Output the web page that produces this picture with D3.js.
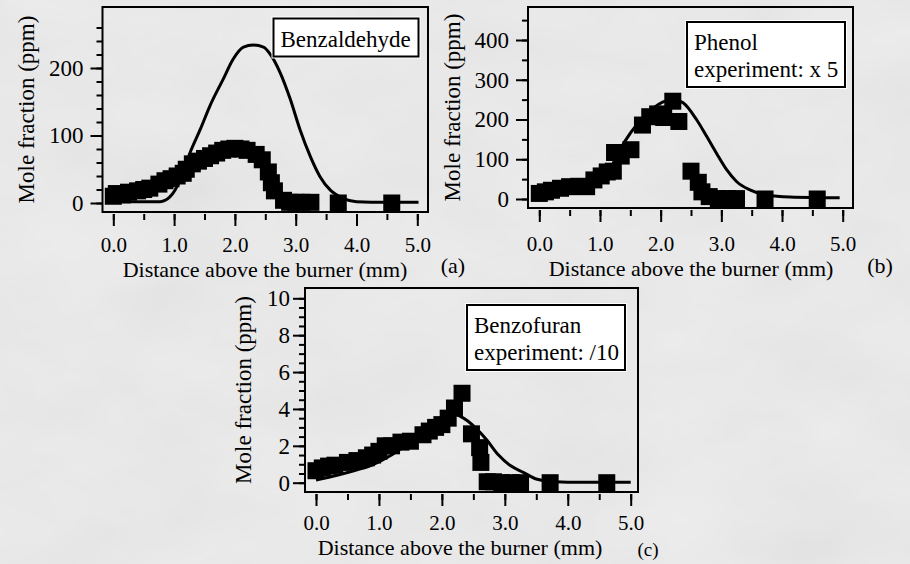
<!DOCTYPE html>
<html>
<head>
<meta charset="utf-8">
<script src="https://cdn.jsdelivr.net/npm/d3@7"></script>
<style>
  body { margin: 0; background: #e9e9e9; }
</style>
</head>
<body>
<div class="svg_container"></div>
<script>
const WIDTH = 910;
const HEIGHT = 564;
const FONT = "'Liberation Serif', 'Times New Roman', Times, Tinos, 'DejaVu Serif', 'Noto Serif', serif";

// shared axis labels
const xTickValues = [0, 1, 2, 3, 4, 5];
const xTickLabels = ["0.0", "1.0", "2.0", "3.0", "4.0", "5.0"];
const xTitle = "Distance above the burner (mm)";
const yTitle = "Mole fraction (ppm)";

// (a) Benzaldehyde
const aDistance = [0.0, 0.05, 0.15, 0.25, 0.4, 0.5, 0.6, 0.75, 0.85, 0.95, 1.05, 1.15, 1.2, 1.3, 1.4, 1.5, 1.6, 1.7, 1.8, 1.9, 2.0, 2.1, 2.2, 2.35, 2.45, 2.55, 2.6, 2.65, 2.8, 2.9, 3.0, 3.1, 3.25, 3.7, 4.58];
const aMeasured = [10, 14, 12, 16, 18, 20, 22, 28, 33, 36, 40, 44, 50, 58, 62, 66, 70, 74, 78, 80, 81, 80, 78, 72, 64, 46, 30, 18, 4, 1, 1, 1, 1, 0, 0];
const aModelDistance = [0.0, 0.4, 0.77, 0.93, 1.1, 1.26, 1.43, 1.59, 1.81, 1.97, 2.14, 2.3, 2.47, 2.6, 2.74, 2.91, 3.07, 3.24, 3.4, 3.57, 3.78, 4.0, 4.5, 5.02];
const aModel = [2, 2, 2, 9, 34, 74, 109, 144, 184, 213, 231, 234, 231, 218, 194, 154, 109, 69, 39, 19, 7, 2, 1, 1];
const aYTicks = [0, 100, 200];
const aLegend = ["Benzaldehyde"];

// (b) Phenol
const bDistance = [0.0, 0.1, 0.2, 0.35, 0.5, 0.65, 0.78, 0.9, 1.02, 1.12, 1.22, 1.24, 1.35, 1.51, 1.70, 1.82, 1.95, 2.05, 2.2, 2.3, 2.5, 2.62, 2.68, 2.8, 2.95, 3.1, 3.25, 3.72, 4.58];
const bMeasured = [14, 18, 22, 27, 31, 32, 31, 48, 58, 68, 70, 117, 108, 124, 186, 207, 214, 205, 246, 195, 70, 42, 18, 6, 1, 1, 1, 0, 0];
const bModelDistance = [0.0, 0.5, 0.8, 1.0, 1.2, 1.41, 1.63, 1.85, 2.05, 2.22, 2.37, 2.59, 2.76, 2.92, 3.09, 3.25, 3.47, 3.75, 4.13, 4.95];
const bModel = [10, 20, 30, 48, 85, 145, 191, 225, 245, 250, 242, 200, 157, 115, 73, 44, 23, 10, 5, 3];
const bYTicks = [0, 100, 200, 300, 400];
const bLegend = ["Phenol", "experiment: x 5"];

// (c) Benzofuran
const cDistance = [0.0, 0.1, 0.2, 0.3, 0.5, 0.65, 0.8, 0.9, 1.0, 1.1, 1.2, 1.35, 1.5, 1.7, 1.8, 1.9, 2.0, 2.1, 2.2, 2.32, 2.47, 2.6, 2.62, 2.72, 2.82, 2.95, 3.1, 3.25, 3.72, 4.62];
const cMeasured = [0.65, 0.8, 0.9, 0.95, 1.1, 1.2, 1.35, 1.5, 1.7, 2.0, 2.0, 2.2, 2.25, 2.6, 2.8, 3.0, 3.15, 3.5, 4.05, 4.85, 2.65, 1.9, 1.1, 0.05, 0.05, 0, 0, 0, 0, 0];
const cModelDistance = [0.0, 0.35, 0.6, 0.89, 1.2, 1.5, 1.8, 2.0, 2.2, 2.42, 2.71, 2.9, 3.1, 3.3, 3.5, 3.8, 4.2, 5.0];
const cModel = [0.15, 0.42, 0.65, 0.96, 1.5, 2.2, 3.0, 3.45, 3.7, 3.32, 2.33, 1.5, 0.9, 0.55, 0.2, 0.05, 0.02, 0.02];
const cYTicks = [0, 2, 4, 6, 8, 10];
const cLegend = ["Benzofuran", "experiment: /10"];

const panelTags = ["(a)", "(b)", "(c)"];

var panels = [
  { tag: panelTags[0], x: aDistance, y: aMeasured, mx: aModelDistance, my: aModel,
    yTicks: aYTicks, yMinor: d3.range(0, 261, 20), yMax: 200, legend: aLegend,
    frame: { l: 102.5, t: 7, r: 428, b: 212 }, xr: [113.3, 417.3], yr: [203, 68],
    yPad: 7, yTitleX: 34, tagPos: [453, 273], legendBox: [273.5, 18.5, 145, 38],
    xTitlePos: 265, tickY: 38, titleY: 65 },
  { tag: panelTags[1], x: bDistance, y: bMeasured, mx: bModelDistance, my: bModel,
    yTicks: bYTicks, yMinor: d3.range(0, 451, 50), yMax: 400, legend: bLegend,
    frame: { l: 528, t: 7, r: 853, b: 208 }, xr: [539.3, 842.7], yr: [199, 40],
    yPad: 7, yTitleX: 460, tagPos: [880, 273], legendBox: [687, 22, 158, 65],
    xTitlePos: 691, tickY: 41, titleY: 68 },
  { tag: panelTags[2], x: cDistance, y: cMeasured, mx: cModelDistance, my: cModel,
    yTicks: cYTicks, yMinor: d3.range(0, 10.1, 0.5), yMax: 10, legend: cLegend,
    frame: { l: 305, t: 288, r: 638, b: 492 }, xr: [316, 630.7], yr: [482.7, 298.3],
    yPad: 3, yTitleX: 251, tagPos: [648, 556], legendBox: [467, 305, 158, 65],
    xTitlePos: 460, tickY: 36, titleY: 63 }
];

var translate = function (x, y) {
  return "translate(" + x + "," + y + ")";
};

var drawPanel = function (svg, p) {
  var f = p.frame;
  var xScale = d3.scaleLinear().domain([0, 5]).range(p.xr);
  var yScale = d3.scaleLinear().domain([0, p.yMax]).range(p.yr);
  var g = svg.append("g");

  // minor / major y ticks
  g.append("g")
    .attr("transform", translate(f.l, 0))
    .call(d3.axisLeft(yScale).tickValues(p.yMinor).tickSize(6).tickFormat(""))
    .call(function (s) { s.select(".domain").remove(); });
  g.append("g")
    .attr("transform", translate(f.l, 0))
    .call(d3.axisLeft(yScale).tickValues(p.yTicks).tickSize(12).tickPadding(p.yPad).tickFormat(d3.format("d")))
    .call(function (s) { s.select(".domain").remove(); })
    .attr("font-family", FONT).attr("font-size", 23);

  // x ticks below the frame
  g.append("g")
    .attr("transform", translate(0, f.b + 2))
    .call(d3.axisBottom(xScale).tickValues(d3.range(0, 5.01, 0.5)).tickSize(6).tickFormat(""))
    .call(function (s) { s.select(".domain").remove(); });
  g.append("g")
    .attr("transform", translate(0, f.b + 2))
    .call(d3.axisBottom(xScale).tickValues(xTickValues).tickSize(12).tickFormat(function (d, i) { return xTickLabels[i]; }))
    .call(function (s) { s.select(".domain").remove(); })
    .attr("font-family", FONT).attr("font-size", 21)
    .selectAll("text").attr("dy", null).attr("y", p.tickY);

  g.selectAll(".tick line").attr("stroke", "#000").attr("stroke-width", 2);
  g.selectAll(".tick text").attr("fill", "#000");

  // frame
  g.append("rect")
    .attr("x", f.l).attr("y", f.t)
    .attr("width", f.r - f.l).attr("height", f.b - f.t)
    .attr("fill", "none").attr("stroke", "#000").attr("stroke-width", 2);

  // measured points
  g.append("g").selectAll("rect")
    .data(p.x).enter().append("rect")
    .attr("x", function (d) { return xScale(d) - 8.5; })
    .attr("y", function (d, i) { return yScale(p.y[i]) - 8.5; })
    .attr("width", 17).attr("height", 17)
    .attr("fill", "#000");

  // model line
  var line = d3.line()
    .x(function (d) { return xScale(d); })
    .y(function (d, i) { return yScale(p.my[i]); })
    .curve(d3.curveMonotoneX);
  g.append("path")
    .attr("d", line(p.mx))
    .attr("fill", "none").attr("stroke", "#000").attr("stroke-width", 3);

  // legend box
  var lb = p.legendBox;
  g.append("rect")
    .attr("x", lb[0] - 2).attr("y", lb[1] - 2)
    .attr("width", lb[2] + 4).attr("height", lb[3] + 4)
    .attr("fill", "#fff");
  g.append("rect")
    .attr("x", lb[0]).attr("y", lb[1])
    .attr("width", lb[2]).attr("height", lb[3])
    .attr("fill", "#fff").attr("stroke", "#000").attr("stroke-width", 2);
  g.selectAll(".legend-text")
    .data(p.legend).enter().append("text")
    .attr("class", "legend-text")
    .attr("x", lb[0] + 7)
    .attr("y", function (d, i) { return lb[1] + 28 + i * 27; })
    .attr("font-family", FONT).attr("font-size", 23)
    .text(function (d) { return d; });

  // axis titles
  g.append("text")
    .attr("x", p.xTitlePos).attr("y", f.b + p.titleY)
    .attr("text-anchor", "middle")
    .attr("font-family", FONT).attr("font-size", 22)
    .text(xTitle);
  g.append("text")
    .attr("transform", translate(p.yTitleX, (f.t + f.b) / 2) + " rotate(-90)")
    .attr("text-anchor", "middle")
    .attr("font-family", FONT).attr("font-size", 23)
    .text(yTitle);

  // panel tag
  g.append("text")
    .attr("x", p.tagPos[0]).attr("y", p.tagPos[1])
    .attr("text-anchor", "middle")
    .attr("font-family", FONT).attr("font-size", p.tag === "(c)" ? 19 : 22)
    .text(p.tag);
};

var loadDefault = function () {
  var svg = d3.select(".svg_container").append("svg")
    .attr("width", WIDTH)
    .attr("height", HEIGHT)
    .style("display", "block");

  var defs = svg.append("defs");
  var filt = defs.append("filter").attr("id", "paper")
    .attr("filterUnits", "userSpaceOnUse")
    .attr("x", 0).attr("y", 0).attr("width", WIDTH).attr("height", HEIGHT);
  filt.append("feTurbulence").attr("type", "fractalNoise")
    .attr("baseFrequency", "0.008 0.014").attr("numOctaves", 4).attr("seed", 7);
  filt.append("feColorMatrix").attr("type", "matrix")
    .attr("values", "0.33 0.33 0.33 0 0  0.33 0.33 0.33 0 0  0.33 0.33 0.33 0 0  0 0 0 0 1");

  svg.append("rect").attr("width", WIDTH).attr("height", HEIGHT).attr("fill", "#eeeeee");
  svg.append("rect").attr("width", WIDTH).attr("height", HEIGHT)
    .attr("filter", "url(#paper)").attr("opacity", 0.1);

  panels.forEach(function (p) { drawPanel(svg, p); });
};

window.onload = loadDefault;
</script>
</body>
</html>
